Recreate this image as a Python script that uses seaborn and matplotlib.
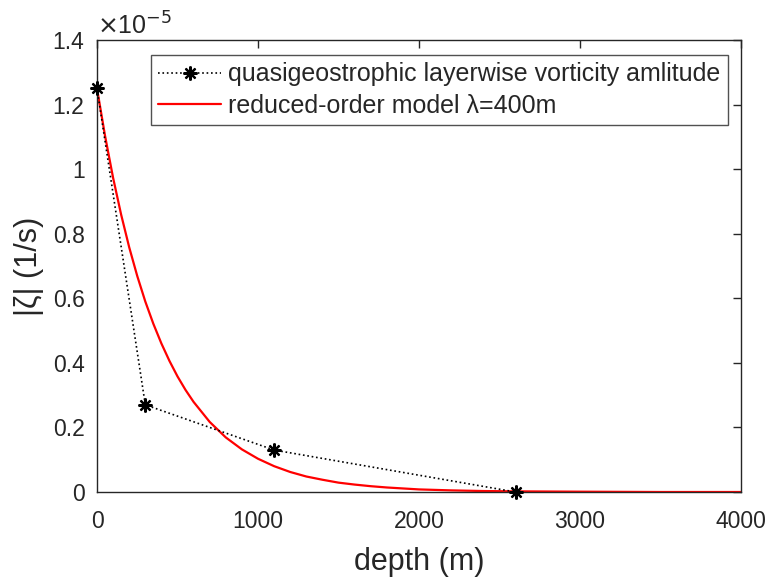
import numpy as np
import pandas as pd
import matplotlib
matplotlib.use("Agg")
import matplotlib.pyplot as plt
import seaborn as sns
from matplotlib.ticker import FuncFormatter, FixedLocator

# Data (vorticity in units of 1e-5 1/s)
qg_depth = [0, 300, 1100, 2600]
qg_vort = [1.25, 0.27, 0.13, 0.0]

rom_depth = [0, 50, 100, 150, 200, 250, 300, 350, 400, 450, 500, 550, 600, 700, 800, 900,
             1000, 1100, 1200, 1300, 1400, 1500, 1600, 1700, 1800, 1900, 2000, 2200,
             2400, 2600, 3000, 3500, 4000]
rom_vort = [1.250, 1.103, 0.973, 0.859, 0.758, 0.669, 0.590, 0.521, 0.460, 0.406, 0.358,
            0.316, 0.279, 0.217, 0.169, 0.132, 0.103, 0.080, 0.062, 0.048, 0.038, 0.029,
            0.023, 0.018, 0.014, 0.011, 0.008, 0.005, 0.003, 0.002, 0.001, 0.000, 0.000]

x_ticks = [0, 1000, 2000, 3000, 4000]
y_ticks = [0, 0.2, 0.4, 0.6, 0.8, 1.0, 1.2, 1.4]

label_qg = "quasigeostrophic layerwise vorticity amlitude"
label_rom = "reduced-order model λ=400m"

sns.set_style("white")
plt.rcParams['font.family'] = ['Liberation Sans', 'DejaVu Sans']
gray = "#262626"

fig = plt.figure(figsize=(7.72, 5.79), dpi=100)
ax = fig.add_axes([97/772, 1 - 492/579, 644/772, 452/579])

qg = pd.DataFrame({"depth": qg_depth, "vort": qg_vort})
rom = pd.DataFrame({"depth": rom_depth, "vort": rom_vort})

sns.lineplot(data=qg, x="depth", y="vort", ax=ax, color="black", linestyle=":",
             linewidth=1.2, marker=(8, 2, 0), markersize=10, markeredgewidth=1.6,
             markeredgecolor="black", label=label_qg, clip_on=False, zorder=3)
sns.lineplot(data=rom, x="depth", y="vort", ax=ax, color="#ff0000", linewidth=1.6,
             label=label_rom, zorder=2)

ax.set_xlim(0, 4000)
ax.set_ylim(0, 1.4)
ax.xaxis.set_major_locator(FixedLocator(x_ticks))
ax.yaxis.set_major_locator(FixedLocator(y_ticks))
ax.xaxis.set_major_formatter(FuncFormatter(lambda v, p: f"{v:g}"))
ax.yaxis.set_major_formatter(FuncFormatter(lambda v, p: f"{v:g}"))

ax.tick_params(direction="in", length=6, width=1, colors=gray, labelsize=16.5,
               top=True, right=True, labelcolor=gray)
ax.tick_params(axis="x", pad=13)
ax.tick_params(axis="y", pad=9)
for s in ax.spines.values():
    s.set_color(gray)
    s.set_linewidth(1)
    s.set_visible(True)

ax.set_xlabel("depth (m)", fontsize=22, color=gray, labelpad=10)
ax.set_ylabel("|ζ| (1/s)", fontsize=22, color=gray, labelpad=6)

ax.text(0.0, 1.0, r"$\times$10$^{-5}$", transform=ax.transAxes, fontsize=18,
        color=gray, ha="left", va="bottom")

leg = ax.legend(loc="upper right", bbox_to_anchor=(0.98, 0.967), borderaxespad=0,
                fontsize=18, frameon=True, fancybox=False, handlelength=2.5,
                borderpad=0.3, labelspacing=0.3, handletextpad=0.3)
leg.get_frame().set_edgecolor(gray)
leg.get_frame().set_linewidth(1)
leg.get_frame().set_facecolor("white")

fig.savefig("out.png", dpi=100)
